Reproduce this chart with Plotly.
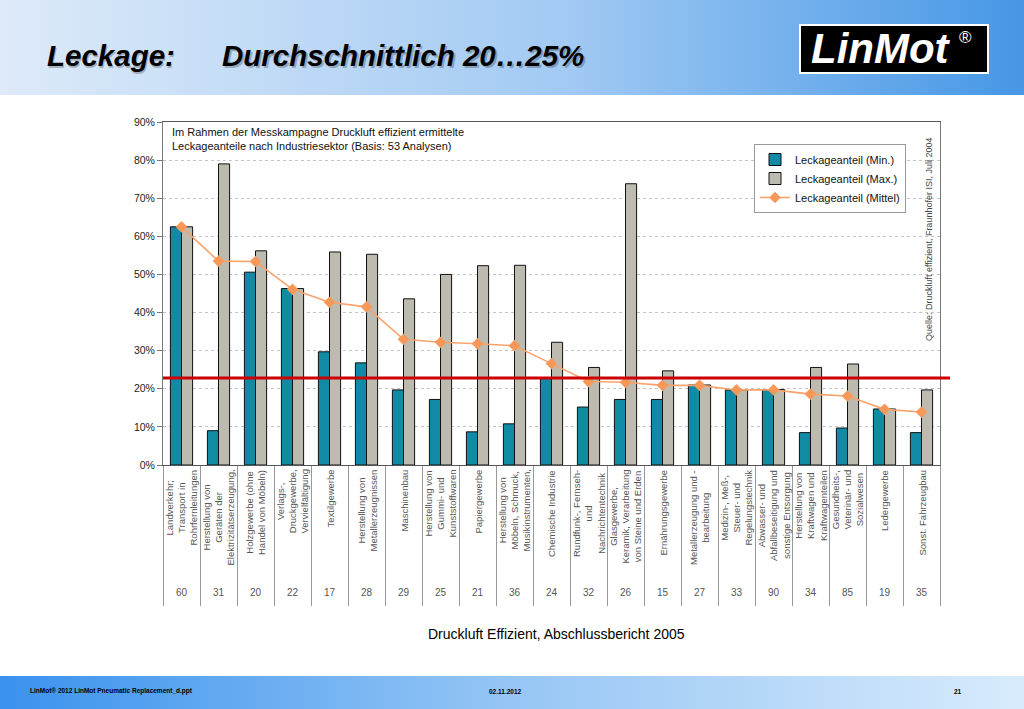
import plotly.graph_objects as go

# ---------------- data ----------------
labels = [
    "Landverkehr;<br>Transport in<br>Rohrfernleitungen",
    "Herstellung von<br>Geräten der<br>Elektrizitätserzeugung,",
    "Holzgewerbe (ohne<br>Handel von Möbeln)",
    "Verlags-,<br>Druckgewerbe,<br>Vervielfältigung",
    "Textilgewerbe",
    "Herstellung von<br>Metallerzeugnissen",
    "Maschinenbau",
    "Herstellung von<br>Gummi- und<br>Kunststoffwaren",
    "Papiergewerbe",
    "Herstellung von<br>Möbeln, Schmuck,<br>Musikinstrumenten,",
    "Chemische Industrie",
    "Rundfunk-, Fernseh-<br>und<br>Nachrichtentechnik",
    "Glasgewerbe,<br>Keramik, Verarbeitung<br>von Steine und Erden",
    "Ernährungsgewerbe",
    "Metallerzeugung und -<br>bearbeitung",
    "Medizin-, Meß-,<br>Steuer- und<br>Regelungstechnik",
    "Abwasser- und<br>Abfallbeseitigung und<br>sonstige Entsorgung",
    "Herstellung von<br>Kraftwagen und<br>Kraftwagenteilen",
    "Gesundheits-,<br>Veterinär- und<br>Sozialwesen",
    "Ledergewerbe",
    "Sonst. Fahrzeugbau",
]
counts = [60, 31, 20, 22, 17, 28, 29, 25, 21, 36, 24, 32, 26, 15, 27, 33, 90, 34, 85, 19, 35]
leak_min = [62.5, 9.0, 50.6, 46.3, 29.7, 26.8, 19.7, 17.2, 8.7, 10.8, 22.8,
            15.2, 17.2, 17.2, 21.0, 19.7, 19.7, 8.5, 9.7, 14.7, 8.5]
leak_max = [62.5, 79.0, 56.2, 46.3, 55.9, 55.3, 43.6, 50.0, 52.3, 52.4, 32.2,
            25.6, 73.8, 24.7, 21.0, 19.7, 19.8, 25.6, 26.5, 14.7, 19.7]
leak_mean = [62.5, 53.5, 53.4, 46.1, 42.7, 41.5, 33.0, 32.2, 31.8, 31.3, 26.6,
             21.9, 21.7, 20.9, 20.9, 19.7, 19.7, 18.6, 18.1, 14.6, 13.9]
average_level = 22.8
y_ticks = [0, 10, 20, 30, 40, 50, 60, 70, 80, 90]
y_tick_text = ["0%", "10%", "20%", "30%", "40%", "50%", "60%", "70%", "80%", "90%"]

# ---------------- geometry helpers ----------------
W, H = 1024, 709
L, R, T, B = 163, 940, 122, 465


def px(x):
    return (x - L) / (R - L)


def py(y):
    return (B - y) / (B - T)


FONT = "Arial, Liberation Sans, sans-serif"
cats = list(range(len(labels)))

fig = go.Figure()
fig.add_trace(go.Bar(x=cats, y=leak_min, name="Leckageanteil (Min.)",
                     marker=dict(color="#108aa5", line=dict(color="#111111", width=1))))
fig.add_trace(go.Bar(x=cats, y=leak_max, name="Leckageanteil (Max.)",
                     marker=dict(color="#bdbbb0", line=dict(color="#111111", width=1))))
fig.add_trace(go.Scatter(x=cats, y=leak_mean, name="Leckageanteil (Mittel)", mode="lines+markers",
                         line=dict(color="#f8a36c", width=1.6),
                         marker=dict(symbol="diamond", size=9, color="#f79858")))

shapes = []


def lerp(c1, c2, t):
    return tuple(round(a + (b - a) * t) for a, b in zip(c1, c2))


def grad(stops, t):
    for (t0, c0), (t1, c1) in zip(stops, stops[1:]):
        if t <= t1:
            return lerp(c0, c1, (t - t0) / (t1 - t0))
    return stops[-1][1]


header_stops = [(0.0, (222, 234, 249)), (0.55, (162, 202, 243)), (1.0, (70, 151, 230))]
footer_stops = [(0.0, (58, 146, 238)), (0.5, (150, 198, 245)), (1.0, (216, 235, 252))]
N = 128
for band, (y0, y1, stops) in enumerate([(0, 95, header_stops), (676, 709, footer_stops)]):
    for i in range(N):
        x0 = W * i / N
        x1 = W * (i + 1) / N + 1
        c = grad(stops, (i + 0.5) / N)
        shapes.append(dict(type="rect", xref="paper", yref="paper",
                           x0=px(x0), x1=px(x1), y0=py(y1), y1=py(y0),
                           fillcolor="rgb(%d,%d,%d)" % c, line=dict(width=0), layer="below"))

# logo box
shapes.append(dict(type="rect", xref="paper", yref="paper",
                   x0=px(800), x1=px(988), y0=py(73), y1=py(25),
                   fillcolor="#000000", line=dict(color="#ffffff", width=2)))
# average line
shapes.append(dict(type="line", xref="paper", yref="y", x0=0, x1=px(950),
                   y0=average_level, y1=average_level,
                   line=dict(color="#cc0000", width=3)))

ann = []
# header title with shadow
for txt, x in [("Leckage:", 45), ("Durchschnittlich 20…25%", 220)]:
    for shadow in (True, False):
        ann.append(dict(text="<b><i>%s</i></b>" % txt, xref="paper", yref="paper",
                        x=px(x), y=py(56), xanchor="left", yanchor="middle", showarrow=False,
                        font=dict(family=FONT, size=29.5,
                                  color="rgba(40,40,40,0.30)" if shadow else "#000000"),
                        xshift=1.5 if shadow else 0, yshift=-1.5 if shadow else 0))
# logo text
ann.append(dict(text="<b><i>LinMot</i></b>", xref="paper", yref="paper", x=px(809), y=py(49),
                xanchor="left", yanchor="middle", showarrow=False,
                font=dict(family=FONT, size=42, color="#ffffff")))
ann.append(dict(text="®", xref="paper", yref="paper", x=px(965), y=py(38),
                xanchor="center", yanchor="middle", showarrow=False,
                font=dict(family=FONT, size=17, color="#ffffff")))
# chart title
ann.append(dict(text="Im Rahmen der Messkampagne Druckluft effizient ermittelte<br>"
                     "Leckageanteile nach Industriesektor (Basis: 53 Analysen)",
                xref="paper", yref="paper", x=px(170), y=py(124), xanchor="left", yanchor="top",
                align="left", showarrow=False, font=dict(family=FONT, size=11, color="#111111")))
# source
ann.append(dict(text="Quelle: Druckluft effizient, Fraunhofer ISI, Juli 2004",
                xref="paper", yref="paper", x=px(929), y=py(240), textangle=-90,
                xanchor="center", yanchor="middle", showarrow=False,
                font=dict(family=FONT, size=9, color="#444444")))
# category labels and counts
for i, (lab, n) in enumerate(zip(labels, counts)):
    ann.append(dict(text=lab, xref="x", yref="paper", x=i, y=py(468), textangle=-90,
                    xanchor="center", yanchor="top", align="center", showarrow=False,
                    font=dict(family=FONT, size=9.5, color="#555555")))
    ann.append(dict(text=str(n), xref="x", yref="paper", x=i, y=py(592),
                    xanchor="center", yanchor="middle", showarrow=False,
                    font=dict(family=FONT, size=10, color="#555555")))
# caption
ann.append(dict(text="Druckluft Effizient, Abschlussbericht 2005", xref="paper", yref="paper",
                x=px(556), y=py(634), xanchor="center", yanchor="middle", showarrow=False,
                font=dict(family=FONT, size=14, color="#000000")))
# footer
for txt, x, anchor in [("LinMot® 2012 LinMot Pneumatic Replacement_d.ppt", 28, "left"),
                       ("02.11.2012", 505, "center"), ("21", 958, "center")]:
    ann.append(dict(text="<b>%s</b>" % txt, xref="paper", yref="paper", x=px(x), y=py(691),
                    xanchor=anchor, yanchor="middle", showarrow=False,
                    font=dict(family=FONT, size=6.5, color="#000000")))

fig.update_layout(
    width=W, height=H,
    margin=dict(l=L, r=W - R, t=T, b=H - B, pad=0),
    paper_bgcolor="#ffffff", plot_bgcolor="#ffffff",
    barmode="group", bargap=0.4, bargroupgap=0,
    shapes=shapes, annotations=ann,
    showlegend=True,
    legend=dict(x=px(754), y=py(144), xanchor="left", yanchor="top",
                bgcolor="#ffffff", bordercolor="#999999", borderwidth=1,
                font=dict(family=FONT, size=11, color="#111111"),
                tracegroupgap=0, itemwidth=30),
    xaxis=dict(type="category", range=[-0.5, len(labels) - 0.5], showticklabels=False,
               ticks="outside", tickson="boundaries", ticklen=140, tickcolor="#999999",
               showline=True, linecolor="#555555", linewidth=1, mirror=True,
               showgrid=False, zeroline=False),
    yaxis=dict(range=[0, 90], tickmode="array", tickvals=y_ticks, ticktext=y_tick_text,
               ticks="outside", ticklen=5,
               tickcolor="#777777", showline=True, linecolor="#777777", mirror=True,
               showgrid=True, gridcolor="#c4c4c4", griddash="dot", zeroline=False,
               tickfont=dict(family=FONT, size=10.5, color="#222222")),
)

fig.write_html("out.html", config={"displayModeBar": False},
               post_script="document.body.style.margin='0';")
